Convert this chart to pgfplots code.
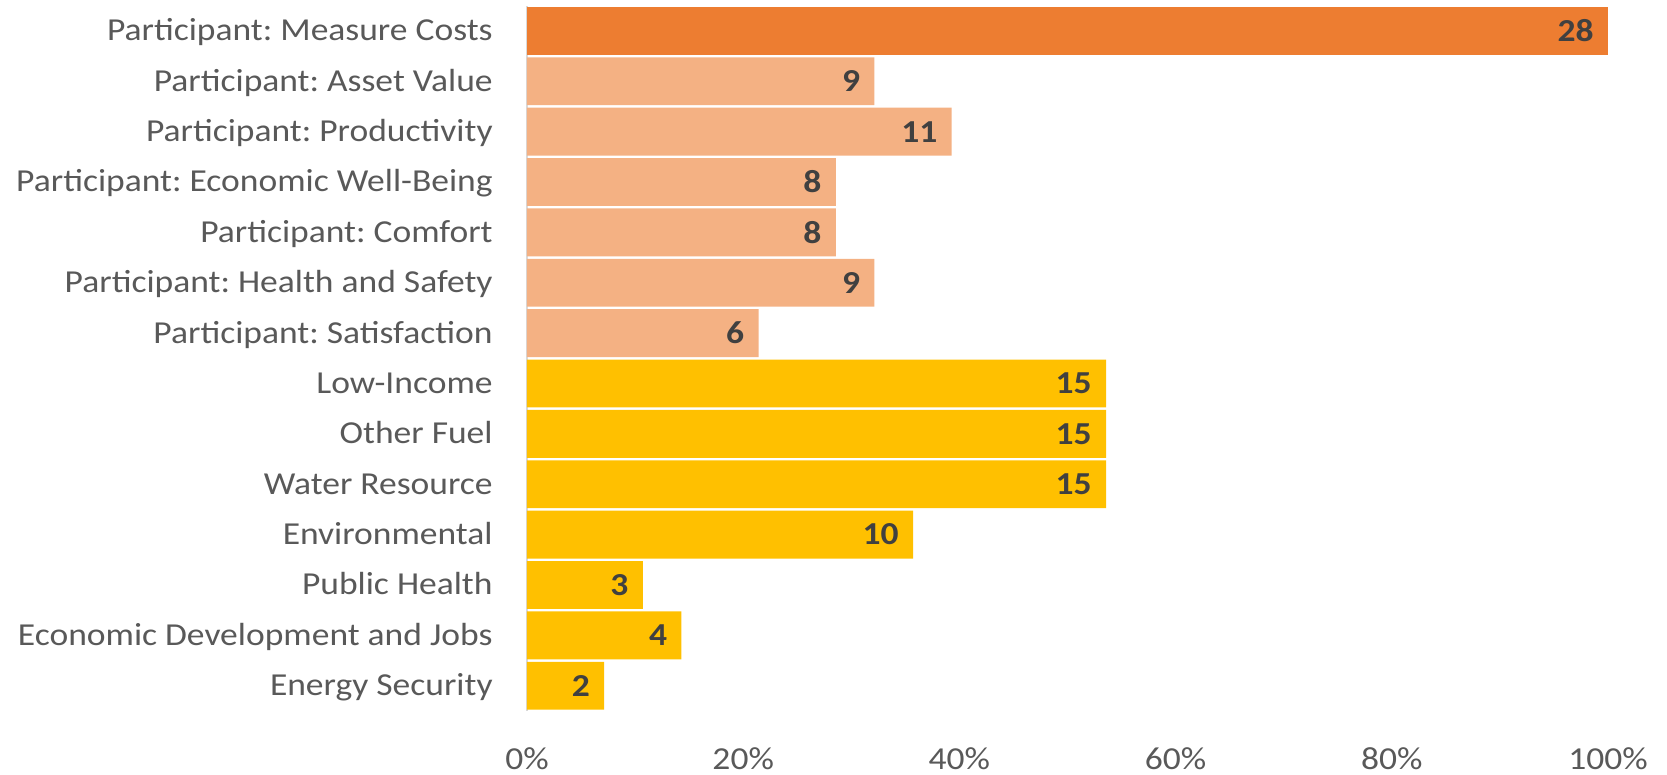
\documentclass[border=0pt]{standalone}
\usepackage{fontspec}
\setmainfont{Carlito}[FakeStretch=1.11]
\usepackage{pgfplots}
\pgfplotsset{compat=1.18}
\definecolor{c1}{HTML}{ED7D31}
\definecolor{c2}{HTML}{F4B183}
\definecolor{c3}{HTML}{FFC000}
\definecolor{lab}{HTML}{595959}
\definecolor{num}{HTML}{404040}
\definecolor{axl}{HTML}{D9D9D9}
\frenchspacing
\begin{document}
\begin{tikzpicture}
\begin{axis}[
  at={(0,0)}, anchor=south west,
  scale only axis, width=540.5pt, height=352.6pt,
  xbar, bar width=0.95,
  xmin=0, xmax=28, ymin=-0.5, ymax=13.5,
  xtick={0,5.6,11.2,16.8,22.4,28},
  xticklabels={0\%,20\%,40\%,60\%,80\%,100\%},
  ytick={0,...,13},
  yticklabels={Energy Security, Economic Development and Jobs, Public Health, Environmental, Water Resource, Other Fuel, Low-Income, Participant: Satisfaction, Participant: Health and Safety, Participant: Comfort, Participant: Economic Well-Being, Participant: Productivity, Participant: Asset Value, Participant: Measure Costs},
  major tick length=0pt,
  axis x line*=bottom,
  x axis line style={draw=none, -},
  axis y line*=left,
  y axis line style={draw=axl, line width=0.8pt, -},
  /pgf/number format/assume math mode=true,
  tick label style={font=\fontsize{16}{18}\selectfont, text=lab},
  yticklabel style={anchor=base east, inner sep=0pt, xshift=-17pt, yshift=-5pt},
  xticklabel style={anchor=base, inner sep=0pt, yshift=-29.5pt},
  nodes near coords,
  every node near coord/.append style={anchor=east, inner sep=0pt, xshift=-7pt, font=\fontsize{16}{18}\selectfont\bfseries, text=num},
]
\addplot[fill=c1, draw=none, bar shift=0pt] coordinates {(28,13)};
\addplot[fill=c2, draw=none, bar shift=0pt] coordinates {(9,12) (11,11) (8,10) (8,9) (9,8) (6,7)};
\addplot[fill=c3, draw=none, bar shift=0pt] coordinates {(15,6) (15,5) (15,4) (10,3) (3,2) (4,1) (2,0)};
\end{axis}
\pgfresetboundingbox
\path[use as bounding box] (-263.5pt,-32pt) rectangle (570pt,355.45pt);
\end{tikzpicture}
\end{document}
